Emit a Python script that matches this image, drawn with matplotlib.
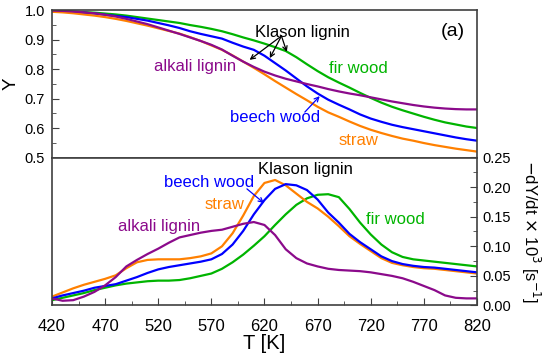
import numpy as np
import matplotlib
matplotlib.use("Agg")
import matplotlib.pyplot as plt
from matplotlib.ticker import MultipleLocator, FormatStrFormatter

plt.rcParams['font.family'] = ['Liberation Sans', 'DejaVu Sans']

# temperature grid [K]
T = np.arange(420, 821, 10)

# mass fraction Y (top panel)
Y_fir = [0.995, 0.995, 0.994, 0.993, 0.991, 0.988, 0.985, 0.981, 0.976, 0.971,
         0.966, 0.961, 0.956, 0.949, 0.943, 0.936, 0.928, 0.918, 0.907, 0.897,
         0.886, 0.874, 0.861, 0.840, 0.816, 0.793, 0.772, 0.754, 0.737, 0.719,
         0.702, 0.686, 0.672, 0.660, 0.649, 0.638, 0.628, 0.619, 0.612, 0.605, 0.600]
Y_beech = [0.996, 0.995, 0.993, 0.991, 0.988, 0.984, 0.980, 0.976, 0.970, 0.964,
           0.956, 0.948, 0.939, 0.928, 0.919, 0.911, 0.903, 0.889, 0.876, 0.865,
           0.845, 0.820, 0.795, 0.768, 0.741, 0.717, 0.696, 0.679, 0.663, 0.646,
           0.632, 0.621, 0.611, 0.603, 0.596, 0.589, 0.582, 0.575, 0.568, 0.562, 0.557]
Y_straw = [0.994, 0.992, 0.989, 0.985, 0.981, 0.976, 0.970, 0.963, 0.955, 0.947,
           0.938, 0.929, 0.920, 0.908, 0.895, 0.880, 0.865, 0.846, 0.825, 0.804,
           0.782, 0.759, 0.737, 0.715, 0.694, 0.672, 0.653, 0.638, 0.622, 0.607,
           0.594, 0.583, 0.573, 0.564, 0.557, 0.549, 0.542, 0.536, 0.530, 0.525, 0.520]
Y_alkali = [0.998, 0.997, 0.995, 0.992, 0.989, 0.984, 0.978, 0.970, 0.961, 0.952,
            0.941, 0.930, 0.919, 0.907, 0.895, 0.882, 0.866, 0.845, 0.825, 0.807,
            0.791, 0.778, 0.767, 0.758, 0.749, 0.741, 0.732, 0.724, 0.717, 0.711,
            0.704, 0.697, 0.690, 0.684, 0.678, 0.673, 0.669, 0.666, 0.664, 0.663, 0.663]

# rate -dY/dt x 10^3 (bottom panel)
R_fir = [0.009, 0.013, 0.017, 0.021, 0.026, 0.030, 0.034, 0.037, 0.039, 0.041,
         0.042, 0.042, 0.043, 0.046, 0.050, 0.054, 0.062, 0.073, 0.086, 0.101,
         0.117, 0.136, 0.154, 0.170, 0.181, 0.187, 0.188, 0.183, 0.163, 0.140,
         0.120, 0.103, 0.090, 0.082, 0.078, 0.076, 0.074, 0.072, 0.070, 0.068, 0.066]
R_beech = [0.012, 0.017, 0.021, 0.025, 0.030, 0.033, 0.036, 0.042, 0.048, 0.055,
           0.061, 0.065, 0.068, 0.071, 0.074, 0.078, 0.087, 0.103, 0.126, 0.154,
           0.178, 0.197, 0.205, 0.203, 0.195, 0.179, 0.157, 0.140, 0.121, 0.107,
           0.095, 0.083, 0.075, 0.070, 0.067, 0.065, 0.064, 0.062, 0.060, 0.058, 0.056]
R_straw = [0.015, 0.022, 0.029, 0.035, 0.040, 0.045, 0.051, 0.063, 0.073, 0.077,
           0.078, 0.078, 0.078, 0.080, 0.083, 0.088, 0.100, 0.122, 0.152, 0.185,
           0.207, 0.212, 0.203, 0.189, 0.175, 0.164, 0.150, 0.134, 0.117, 0.104,
           0.092, 0.080, 0.072, 0.068, 0.065, 0.063, 0.062, 0.060, 0.058, 0.056, 0.054]
R_alkali = [0.012, 0.008, 0.009, 0.015, 0.023, 0.034, 0.048, 0.066, 0.077, 0.087,
            0.096, 0.106, 0.115, 0.119, 0.123, 0.126, 0.128, 0.133, 0.138, 0.141,
            0.136, 0.119, 0.095, 0.080, 0.071, 0.066, 0.062, 0.060, 0.059, 0.058,
            0.056, 0.053, 0.050, 0.046, 0.040, 0.033, 0.026, 0.017, 0.013, 0.012, 0.012]

T_ticks = [420, 470, 520, 570, 620, 670, 720, 770, 820]

c_fir = '#00B400'
c_beech = '#0000FF'
c_straw = '#FF8000'
c_alkali = '#8B0A8B'
spine_c = '#404040'

fig = plt.figure(figsize=(5.5, 3.6), dpi=100)
ax1 = fig.add_axes([0.0945, 0.5625, 0.7727, 0.4097])
ax2 = fig.add_axes([0.0945, 0.1514, 0.7727, 0.4111])

for ax in (ax1, ax2):
    for s in ax.spines.values():
        s.set_color(spine_c)
        s.set_linewidth(1.2)
    ax.set_xlim(420, 820)

lw = 1.6
ax1.plot(T, Y_fir, color=c_fir, lw=lw)
ax1.plot(T, Y_beech, color=c_beech, lw=lw)
ax1.plot(T, Y_straw, color=c_straw, lw=lw)
ax1.plot(T, Y_alkali, color=c_alkali, lw=lw)

ax2.plot(T, R_fir, color=c_fir, lw=lw)
ax2.plot(T, R_straw, color=c_straw, lw=lw)
ax2.plot(T, R_beech, color=c_beech, lw=lw)
ax2.plot(T, R_alkali, color=c_alkali, lw=lw)

# top panel axes
ax1.set_ylim(0.5, 1.0)
ax1.yaxis.set_major_locator(MultipleLocator(0.1))
ax1.yaxis.set_minor_locator(MultipleLocator(0.05))
ax1.tick_params(axis='y', which='both', direction='in', left=True, right=False,
                labelsize=10.5, pad=5, color=spine_c)
ax1.tick_params(axis='y', which='major', length=5)
ax1.tick_params(axis='y', which='minor', length=3)
ax1.tick_params(axis='x', which='both', bottom=False, top=False, labelbottom=False)
ax1.set_ylabel('Y', fontsize=13.5, labelpad=4)

# bottom panel axes
ax2.set_ylim(0, 0.25)
ax2.yaxis.tick_right()
ax2.yaxis.set_label_position('right')
ax2.yaxis.set_major_locator(MultipleLocator(0.05))
ax2.yaxis.set_minor_locator(MultipleLocator(0.025))
ax2.yaxis.set_major_formatter(FormatStrFormatter('%.2f'))
ax2.tick_params(axis='y', which='both', direction='in', left=False, right=True,
                labelsize=10.5, pad=4, color=spine_c)
ax2.tick_params(axis='y', which='major', length=5)
ax2.tick_params(axis='y', which='minor', length=3)
ax2.set_xticks(T_ticks)
ax2.set_xticks([t + 25 for t in T_ticks[:-1]], minor=True)
ax2.tick_params(axis='x', which='both', direction='in', top=False, bottom=True,
                labelsize=12, pad=9.5, color=spine_c)
ax2.tick_params(axis='x', which='major', length=5)
ax2.tick_params(axis='x', which='minor', length=3)
ax2.set_xlabel('T [K]', fontsize=14.5, labelpad=0)
ax2.set_ylabel(r'$-$dY/dt $\times$ 10$^3$ [s$^{-1}$]', fontsize=12,
               rotation=270, labelpad=22)

fs = 12
# top annotations
ax1.text(656, 0.925, 'Klason lignin', color='black', fontsize=fs, ha='center', va='center')
for tx, ty in [(606, 0.831), (625, 0.837), (641, 0.858)]:
    ax1.annotate('', xy=(tx, ty), xytext=(636, 0.912),
                 arrowprops=dict(arrowstyle='->', color='black', lw=0.9,
                                 mutation_scale=8, shrinkA=0, shrinkB=0))
ax1.text(555, 0.807, 'alkali lignin', color=c_alkali, fontsize=fs, ha='center', va='center')
ax1.text(708, 0.803, 'fir wood', color=c_fir, fontsize=fs, ha='center', va='center')
ax1.text(630, 0.635, 'beech wood', color=c_beech, fontsize=fs, ha='center', va='center')
ax1.annotate('', xy=(672, 0.708), xytext=(658, 0.654),
             arrowprops=dict(arrowstyle='->', color=c_beech, lw=0.9,
                             mutation_scale=8, shrinkA=0, shrinkB=0))
ax1.text(709, 0.559, 'straw', color=c_straw, fontsize=fs, ha='center', va='center')
ax1.text(797, 0.926, '(a)', color='black', fontsize=14, ha='center', va='center')

# bottom annotations
ax2.text(659, 0.229, 'Klason lignin', color='black', fontsize=fs, ha='center', va='center')
ax2.text(568, 0.207, 'beech wood', color=c_beech, fontsize=fs, ha='center', va='center')
ax2.annotate('', xy=(619.5, 0.173), xytext=(603.5, 0.197),
             arrowprops=dict(arrowstyle='->', color=c_beech, lw=0.9,
                             mutation_scale=8, shrinkA=0, shrinkB=0))
ax2.text(582, 0.170, 'straw', color=c_straw, fontsize=fs, ha='center', va='center')
ax2.text(521, 0.134, 'alkali lignin', color=c_alkali, fontsize=fs, ha='center', va='center')
ax2.text(743, 0.146, 'fir wood', color=c_fir, fontsize=fs, ha='center', va='center')

fig.savefig('out.png', dpi=100)
